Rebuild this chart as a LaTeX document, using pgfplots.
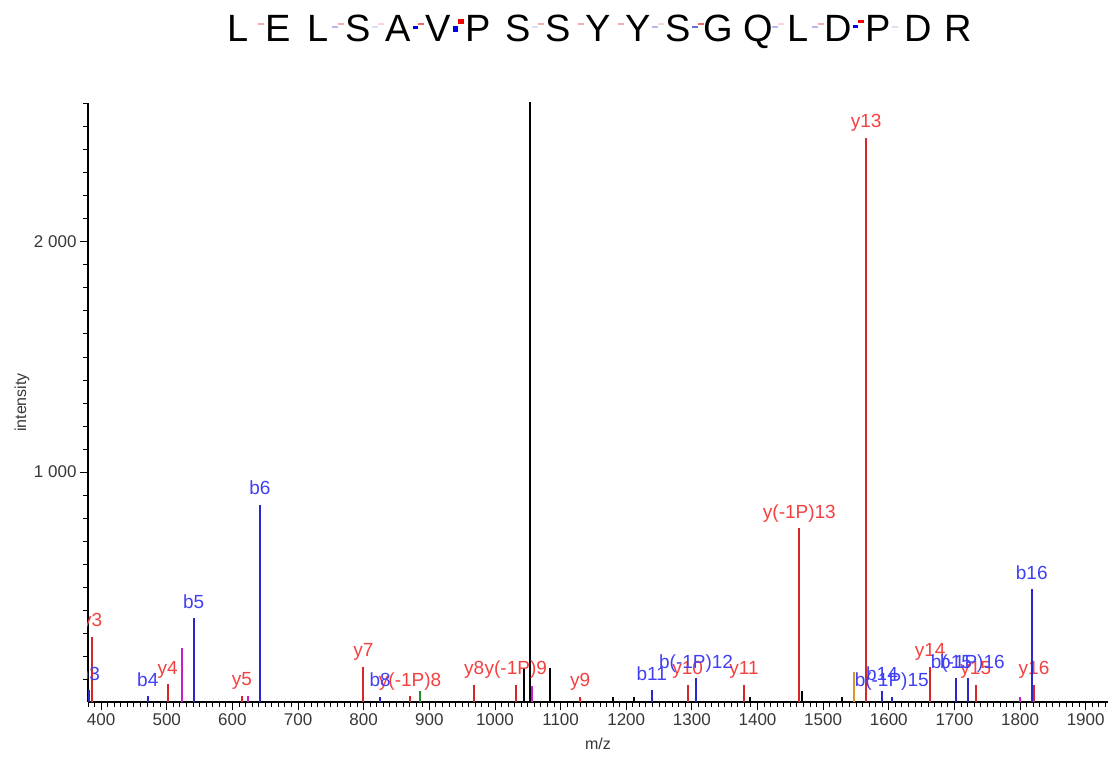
\documentclass[border=0pt]{standalone}
\usepackage{pgfplots}
\pgfplotsset{compat=1.18}
\usepackage{fontspec}
\setmainfont{Liberation Sans}
\definecolor{yline}{RGB}{214,40,40}
\definecolor{ylab}{RGB}{245,64,64}
\definecolor{bline}{RGB}{40,40,205}
\definecolor{blab}{RGB}{64,64,245}
\definecolor{mline}{RGB}{200,30,200}
\definecolor{gline}{RGB}{40,140,40}
\definecolor{oline}{RGB}{214,150,40}
\definecolor{tickgray}{RGB}{55,55,55}
\definecolor{pk}{RGB}{242,175,175}
\definecolor{pkf}{RGB}{248,215,215}
\definecolor{lv}{RGB}{185,185,238}
\definecolor{lvf}{RGB}{222,222,246}
\definecolor{bmed}{RGB}{105,105,225}
\definecolor{rmed}{RGB}{232,105,105}
\definecolor{bstr}{RGB}{0,0,235}
\definecolor{rstr}{RGB}{245,0,0}
\newcommand\ltr[1]{\makebox[40bp][c]{#1}}
\newcommand\nmk[2]{\llap{\textcolor{#1}{\rule[14bp]{6bp}{2bp}}}\rlap{\textcolor{#2}{\rule[17bp]{6bp}{2bp}}}}
\newcommand\rmk[1]{\rlap{\textcolor{#1}{\rule[17bp]{6bp}{2bp}}}}
\newcommand\bmk[1]{\llap{\textcolor{#1}{\rule[14bp]{6bp}{2bp}}}}
\newcommand\smk[8]{\llap{\textcolor{#1}{\rule[#2]{#3}{#4}}}\rlap{\textcolor{#5}{\rule[#6]{#7}{#8}}}}
\newcommand\lblfont{\fontsize{19bp}{22bp}\selectfont}
\newcommand\tckfont{\fontsize{17bp}{20bp}\selectfont}
\begin{document}
\begin{tikzpicture}
\begin{axis}[
  scale only axis, width=1020bp, height=599bp,
  xmin=380, xmax=1934, ymin=0, ymax=2604,
  axis x line=bottom, axis y line=left,
  axis line style={-, black, line width=1.2bp},
  tick align=outside,
  xtick={400,500,...,1900},
  minor xtick={380,390,...,1930},
  ytick={1000,2000},
  minor ytick={100,200,...,2600},
  major tick length=8bp, minor tick length=4.5bp,
  tick style={black, line width=0.9bp},
  /pgf/number format/assume math mode=true,
  xticklabel style={font=\tckfont, text=tickgray, /pgf/number format/1000 sep={}},
  yticklabel style={font=\tckfont, text=tickgray, /pgf/number format/1000 sep={\ }},
  xlabel={m/z}, ylabel={intensity},
  xlabel style={font=\fontsize{16bp}{18bp}\selectfont, text=tickgray, at={(axis description cs:0.5,-0.0701)}, anchor=center},
  ylabel style={font=\fontsize{16bp}{18bp}\selectfont, text=tickgray, at={(axis description cs:-0.0647,0.5)}, anchor=center},
  clip marker paths=true,
  nodes near coords align={anchor=base},
]
% unlabeled peaks
\addplot[ycomb, no marks, draw=black, line width=2bp] coordinates {
 (1044.4,146) (1053.5,3000) (1084,149) (1179.5,23) (1212,23) (1388.6,23) (1467.4,49) (1528.3,23)};
\addplot[ycomb, no marks, draw=mline, line width=2bp] coordinates {
 (523.3,236) (623.9,27) (1056,70) (1800,23)};
\addplot[ycomb, no marks, draw=gline, line width=2bp] coordinates {(886,49)};
\addplot[ycomb, no marks, draw=oline, line width=2bp] coordinates {(1547.1,132)};
% y ions
\addplot[ycomb, no marks, draw=yline, line width=2bp, point meta=explicit symbolic,
  nodes near coords={\pgfplotspointmeta},
  every node near coord/.append style={text=ylab, font=\lblfont, yshift=10bp, inner sep=0pt}]
 coordinates {
 (386.2,283) [y3]
 (501.5,78) [y4]
 (614.3,27) [y5]
 (799.5,153) [y7]
 (870.7,26) [y(-1P)8]
 (968.2,74) [y8]
 (1031.7,74) [y(-1P)9]
 (1129.7,23) [y9]
 (1293.7,74) [y10]
 (1379.5,74) [y11]
 (1463.8,755) [y(-1P)13]
 (1565.4,2452) [y13]
 (1662.9,153) [y14]
 (1732.5,74) [y15]
 (1821.3,74) [y16]
 };
% b ions
\addplot[ycomb, no marks, draw=bline, line width=2bp, point meta=explicit symbolic,
  nodes near coords={\pgfplotspointmeta},
  every node near coord/.append style={text=blab, font=\lblfont, yshift=10bp, inner sep=0pt}]
 coordinates {
 (382,52) [b3]
 (471.1,26) [b4]
 (541.1,364) [b5]
 (642,857) [b6]
 (825,23) [b8]
 (1238.9,52) [b11]
 (1306.4,103) [b(-1P)12]
 (1589.7,49) [b14]
 (1604.5,23) [b(-1P)15]
 (1702.5,103) [b15]
 (1720.3,103) [b(-1P)16]
 (1817.8,491) [b16]
 };
\end{axis}
\node[anchor=base, inner sep=0pt] at ([yshift=61bp]current axis.north) {\fontsize{38bp}{40bp}\selectfont\ltr{L}\rmk{pk}\ltr{E}\ltr{L}\nmk{lv}{pk}\ltr{S}\nmk{lvf}{pkf}\ltr{A}\smk{bstr}{13bp}{5bp}{2.5bp}{rmed}{17bp}{6bp}{2bp}\ltr{V}\smk{bstr}{10bp}{5bp}{6bp}{rstr}{18bp}{6bp}{5bp}\ltr{P}\ltr{S}\nmk{lvf}{pk}\ltr{S}\rmk{pk}\ltr{Y}\rmk{pk}\ltr{Y}\nmk{lv}{pkf}\ltr{S}\nmk{bmed}{rmed}\ltr{G}\ltr{Q}\nmk{lv}{pkf}\ltr{L}\nmk{lv}{pk}\ltr{D}\smk{bstr}{14bp}{5bp}{3bp}{rstr}{19bp}{6bp}{3bp}\ltr{P}\bmk{lvf}\ltr{D}\ltr{R}};
\pgfresetboundingbox
\path ([shift={(-88bp,-55bp)}]current axis.south west) rectangle ([shift={(2bp,103bp)}]current axis.north east);
\end{tikzpicture}
\end{document}
